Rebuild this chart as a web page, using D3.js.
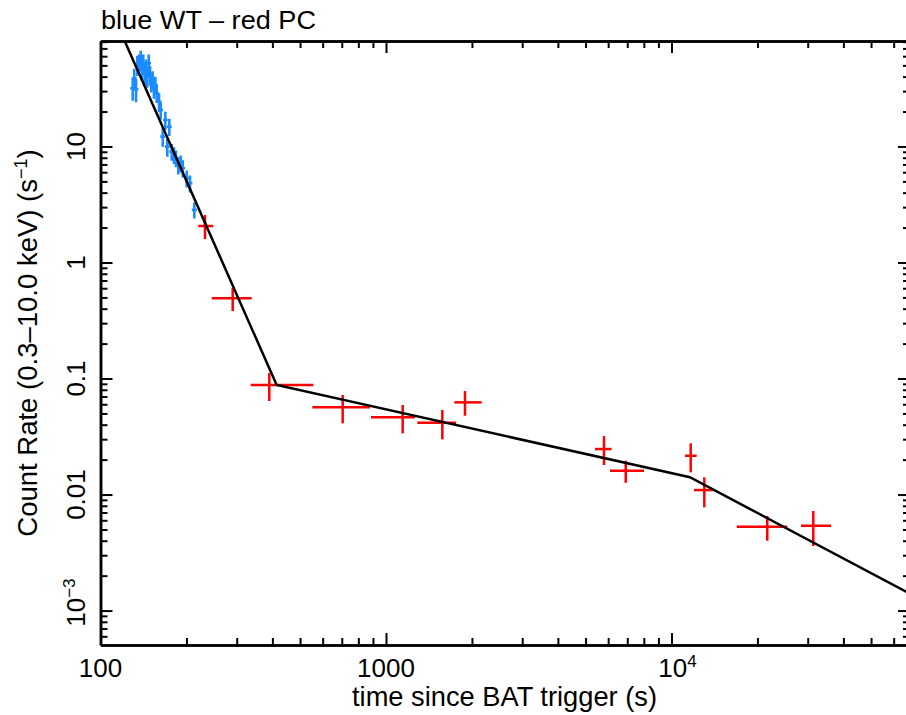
<!DOCTYPE html>
<html><head><meta charset="utf-8">
<script src="https://cdn.jsdelivr.net/npm/d3@7"></script>
<style>
body{margin:0;background:#fff;}
text{font-family:"Liberation Sans",Arial,Helvetica,sans-serif;fill:#000;}
</style>
</head><body>
<svg id="chart" width="906" height="715"></svg>
<script>
// ---- data ----
const wtTime = [129.7,131.3,133.2,134.6,136.4,138.3,139.8,141.2,142.8,144.3,145.8,147.5,149.1,150.6,152.3,153.9,155.6,157.3,160.3,162.5,165.2,168.7,171.4,174.2,177.6,180.9,183.8,187.3,190.9,194.1,200.4,205.8,213.1];
const wtRate = [31.8,38.7,31.1,50.4,52.1,55.7,45.6,52.1,42.8,47.2,40.0,52.1,41.3,36.2,37.4,31.8,33.9,28.7,24.3,20.6,12.15,16.9,9.96,14.8,9.02,8.45,7.91,6.93,7.16,6.49,5.32,4.82,2.84];
const wtRateErr = [7,8,7,10,10,11,9,10,9,9,8,10,8,7,7,6,6,5,4.5,3.5,2.2,3,1.8,2.5,1.5,1.4,1.3,1.2,1.2,1.1,0.9,0.8,0.45];
const wtTimeErr = [2.6,2.6,2.6,2.7,2.7,2.7,2.8,2.8,2.8,2.9,2.9,2.9,3,3,3,3,3.1,3.1,3.2,3.2,3.3,3.3,3.4,3.4,3.5,3.6,3.6,3.7,3.8,3.8,4,4.1,4.2];

const pcTime   = [232.3,290.4,390.1,705.2,1144,1575,1891,5802,6913,11676,13030,21650,31380];
const pcTimeLo = [220.0,245.2,335.8,552.0,886,1287,1735,5395,6089,11150,11990,16920,28420];
const pcTimeHi = [248.4,338.5,556.5,879,1264,1759,2164,6172,8013,12250,14010,25440,36210];
const pcRate   = [2.064,0.4913,0.0879,0.0565,0.0463,0.0416,0.0623,0.02467,0.01604,0.0216,0.01093,0.005278,0.005383];
const pcRateLo = [1.594,0.382,0.064,0.0411,0.0337,0.0299,0.0478,0.01796,0.01263,0.01554,0.00776,0.0040,0.0036];
const pcRateHi = [2.568,0.603,0.1115,0.0721,0.0591,0.0535,0.078,0.0319,0.01956,0.02762,0.01407,0.00653,0.00721];

const modelTime = [120,414,11600,68400];
const modelRate = [87,0.088,0.0141,0.0014];

const xDomain = [100,68450];
const yDomain = [5.05e-4,81.1];
const xMajor = [100,1000,10000];
const xMajorLabels = [["100",""],["1000",""],["10","4"]];
const xMinor = [200,300,400,500,600,700,800,900,2000,3000,4000,5000,6000,7000,8000,9000,20000,30000,40000,50000,60000];
const yMajor = [10,1,0.1,0.01,0.001];
const yMajorLabels = [["10",""],["1",""],["0.1",""],["0.01",""],["10","\u22123"]];
const yMinorMult = [2,3,4,5,6,7,8,9];
const yMinorDecades = [0.0001,0.001,0.01,0.1,1,10];

const titleText = "blue WT \u2013 red PC";
const xTitle = "time since BAT trigger (s)";
const yTitleMain = "Count Rate (0.3\u201310.0 keV) (s";
const yTitleSup = "\u22121";
const yTitleEnd = ")";

// ---- layout ----
const L = 100.5, R = 910, T = 41, B = 645;
const svg = d3.select("#chart");
const x = d3.scaleLog().domain(xDomain).range([L, R]);
const y = d3.scaleLog().domain(yDomain).range([B, T]);

const yMinor = [];
yMinorDecades.forEach(d => yMinorMult.forEach(m => {
  const v = d*m;
  if (v >= yDomain[0] && v <= yDomain[1]) yMinor.push(v);
}));

svg.append("defs").append("clipPath").attr("id","clip")
  .append("rect").attr("x",L).attr("y",T).attr("width",R-L).attr("height",B-T);

// axes
function styleAxis(g){
  g.select(".domain").attr("stroke","#000").attr("stroke-width",2.5);
  g.selectAll(".tick line").attr("stroke","#000").attr("stroke-width",2);
  g.selectAll(".tick text").remove();
}
const maj = 12, mnr = 7;
svg.append("g").attr("transform",`translate(0,${B})`).call(d3.axisBottom(x).tickValues(xMajor).tickSize(-maj).tickSizeOuter(0)).call(styleAxis);
svg.append("g").attr("transform",`translate(0,${B})`).call(d3.axisBottom(x).tickValues(xMinor).tickSize(-mnr).tickSizeOuter(0)).call(styleAxis);
svg.append("g").attr("transform",`translate(0,${T})`).call(d3.axisTop(x).tickValues(xMajor).tickSize(-maj).tickSizeOuter(0)).call(styleAxis);
svg.append("g").attr("transform",`translate(0,${T})`).call(d3.axisTop(x).tickValues(xMinor).tickSize(-mnr).tickSizeOuter(0)).call(styleAxis);
svg.append("g").attr("transform",`translate(${L},0)`).call(d3.axisLeft(y).tickValues(yMajor).tickSize(-maj).tickSizeOuter(0)).call(styleAxis);
svg.append("g").attr("transform",`translate(${L},0)`).call(d3.axisLeft(y).tickValues(yMinor).tickSize(-mnr).tickSizeOuter(0)).call(styleAxis);
svg.append("g").attr("transform",`translate(${R},0)`).call(d3.axisRight(y).tickValues(yMajor).tickSize(-maj).tickSizeOuter(0)).call(styleAxis);
svg.append("g").attr("transform",`translate(${R},0)`).call(d3.axisRight(y).tickValues(yMinor).tickSize(-mnr).tickSizeOuter(0)).call(styleAxis);

// tick labels
const fs = 26;
xMajor.forEach((v,i) => {
  const [base, sup] = xMajorLabels[i];
  const t = svg.append("text").attr("x", x(v) + (sup ? 6 : 0)).attr("y", 677)
    .attr("text-anchor","middle").attr("font-size",fs);
  t.append("tspan").text(base);
  if (sup) t.append("tspan").attr("font-size",17).attr("dy",-10).text(sup);
});
yMajor.forEach((v,i) => {
  const [base, sup] = yMajorLabels[i];
  const t = svg.append("text").attr("transform",`translate(85,${y(v) + (sup ? -8 : 0)}) rotate(-90)`)
    .attr("text-anchor","middle").attr("font-size",fs);
  t.append("tspan").text(base);
  if (sup) t.append("tspan").attr("font-size",17).attr("dy",-10).text(sup);
});

// titles
svg.append("text").attr("x",101).attr("y",29).attr("font-size",26)
  .attr("textLength",215).attr("lengthAdjust","spacingAndGlyphs").text(titleText);
svg.append("text").attr("x",352).attr("y",706).attr("font-size",28)
  .attr("textLength",305).attr("lengthAdjust","spacingAndGlyphs").text(xTitle);
const yt = svg.append("text").attr("transform",`translate(37,${(T+B)/2}) rotate(-90)`)
  .attr("text-anchor","middle").attr("font-size",27.5);
yt.append("tspan").text(yTitleMain);
yt.append("tspan").attr("font-size",18).attr("dy",-10).text(yTitleSup);
yt.append("tspan").attr("dy",10).text(yTitleEnd);

// data
const plot = svg.append("g").attr("clip-path","url(#clip)");
const blue = "#1a8cff", red = "#ff0000";
const wt = d3.range(wtTime.length);
plot.selectAll(".wtv").data(wt).enter().append("line")
  .attr("x1",i=>x(wtTime[i])).attr("x2",i=>x(wtTime[i]))
  .attr("y1",i=>y(wtRate[i]-wtRateErr[i])).attr("y2",i=>y(wtRate[i]+wtRateErr[i]))
  .attr("stroke",blue).attr("stroke-width",2.6);
plot.selectAll(".wth").data(wt).enter().append("line")
  .attr("x1",i=>x(wtTime[i]-wtTimeErr[i])).attr("x2",i=>x(wtTime[i]+wtTimeErr[i]))
  .attr("y1",i=>y(wtRate[i])).attr("y2",i=>y(wtRate[i]))
  .attr("stroke",blue).attr("stroke-width",2.6);

const pc = d3.range(pcTime.length);
plot.selectAll(".pcv").data(pc).enter().append("line")
  .attr("x1",i=>x(pcTime[i])).attr("x2",i=>x(pcTime[i]))
  .attr("y1",i=>y(pcRateLo[i])).attr("y2",i=>y(pcRateHi[i]))
  .attr("stroke",red).attr("stroke-width",2.5);
plot.selectAll(".pch").data(pc).enter().append("line")
  .attr("x1",i=>x(pcTimeLo[i])).attr("x2",i=>x(pcTimeHi[i]))
  .attr("y1",i=>y(pcRate[i])).attr("y2",i=>y(pcRate[i]))
  .attr("stroke",red).attr("stroke-width",2.5);

// model
const line = d3.line().x(d=>x(d[0])).y(d=>y(d[1]));
plot.append("path").datum(modelTime.map((t,i)=>[t,modelRate[i]]))
  .attr("d",line).attr("fill","none").attr("stroke","#000").attr("stroke-width",2.5);
</script>
</body></html>
